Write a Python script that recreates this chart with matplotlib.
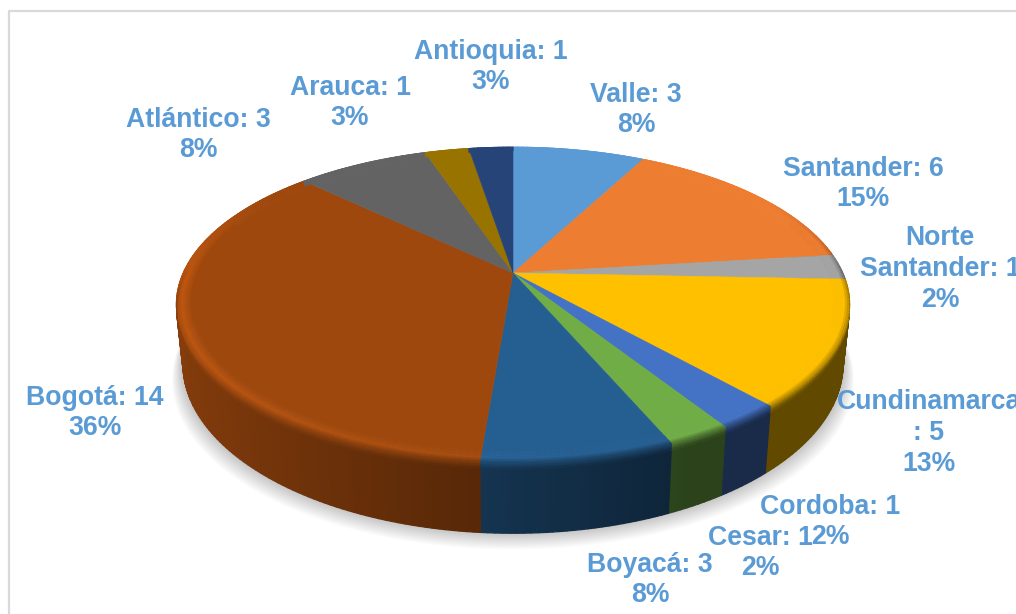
import numpy as np
import matplotlib
matplotlib.use('Agg')
import matplotlib.pyplot as plt
from matplotlib.collections import PolyCollection
from matplotlib.colors import to_rgb

plt.rcParams['font.family'] = ['Liberation Sans', 'DejaVu Sans']

names = ['Valle', 'Santander', 'Norte\nSantander', 'Cundinamarca\n', 'Cordoba', 'Cesar',
         'Boyacá', 'Bogotá', 'Atlántico', 'Arauca', 'Antioquia']
values = [3, 6, 1, 5, 1, 1, 3, 14, 3, 1, 1]
percents = [8, 15, 2, 13, 2, 2, 8, 36, 8, 3, 3]
colors = ['#5B9BD5', '#ED7D31', '#A5A5A5', '#FFC000', '#4472C4', '#70AD47',
          '#255E91', '#9E480E', '#636363', '#997300', '#264478']
label_x = [636, 863, 940, 929, 830, 760, 650, 95, 198, 350, 491]
label_y = [110, 184, 269, 433, 522, 553, 580, 413, 135, 103, 67]

# pie geometry in pixels, with a little perspective
cx, cy = 513, 273
R, b, k = 330, 151.2, 0.2
h = 57
rim = 0.955


def project(theta, r=1.0, t=0.0):
    X = r * np.sin(theta)
    Y = r * np.cos(theta)
    d = 1 + k * Y
    return cx + R * X / d * (1 - 0.02 * t), cy - b * Y / d + h * t / d


def wall_shade(theta):
    X = np.sin(theta)
    return 0.38 + 0.47 * np.clip((0.45 - X) / 1.45, 0, 1)


def rim_shade(theta, s):
    X, Y = np.sin(theta), np.cos(theta)
    peak = 1 + 0.2 * np.clip((0.2 - X) / 1.2, 0, 1)
    # left side stays bright up to the silhouette, right side goes dark earlier
    limit = 0.1 if X < 0 else 0.6
    width = 0.3 if X < 0 else 0.6
    w = peak + (wall_shade(theta) - peak) * np.clip((limit - Y) / width, 0, 1)
    f = 1 + (peak - 1) * s / 0.45 if s < 0.45 else peak + (w - peak) * (s - 0.45) / 0.55
    return 1 + (f - 1) * np.clip((0.6 - Y) / 0.6, 0, 1)


def profile(s):
    return min(1.0, rim + (1 - rim) * s / 0.7), max(0.0, (s - 0.7) / 0.3 * 0.1)


fig = plt.figure(figsize=(10.16, 6.14), dpi=100)
ax = fig.add_axes([0, 0, 1, 1])
ax.set_xlim(0, 1016)
ax.set_ylim(614, 0)
ax.axis('off')

# chart border, only top and left are in the crop
ax.plot([9, 9, 1016], [614, 11, 11], color='#D9D9D9', lw=1.6, zorder=1)

# soft shadow under the pie
ring = np.linspace(0, 2 * np.pi, 361)
for i in range(16):
    sx, sy = project(ring, 1.0, 1.0)
    sx = cx + (sx - cx) * (1 + i * 0.0022)
    sy = sy + i * 1.15 - 1
    ax.fill(sx, sy, color='black', alpha=0.014, lw=0, zorder=2)

edges = np.cumsum([0] + values) / sum(values) * 2 * np.pi
steps = np.linspace(0, 1, 11)

for start, end, color in zip(edges[:-1], edges[1:], colors):
    base = np.array(to_rgb(color))
    n = max(2, int(np.degrees(end - start)))
    thetas = np.linspace(start, end, n + 1)
    wall_polys, wall_faces, rim_polys, rim_faces = [], [], [], []
    for a1, a2 in zip(thetas[:-1], thetas[1:]):
        mid = (a1 + a2) / 2
        # side wall, the back part is hidden anyway
        if np.cos(mid) < 0.4:
            wall_polys.append([project(a1, 1.0, 0.09), project(a2, 1.0, 0.09),
                               project(a2, 1.0, 1.0), project(a1, 1.0, 1.0)])
            wall_faces.append(np.clip(base * wall_shade(mid), 0, 1))
        # rounded edge between top and wall
        for s1, s2 in zip(steps[:-1], steps[1:]):
            r1, t1 = profile(s1)
            r2, t2 = profile(s2)
            rim_polys.append([project(a1, r1, t1), project(a2, r1, t1),
                              project(a2, r2, t2), project(a1, r2, t2)])
            rim_faces.append(np.clip(base * rim_shade(mid, (s1 + s2) / 2), 0, 1))
    if wall_polys:
        ax.add_collection(PolyCollection(wall_polys, facecolors=wall_faces, edgecolors=wall_faces,
                                         linewidths=0.9, zorder=3))
    ax.add_collection(PolyCollection(rim_polys, facecolors=rim_faces, edgecolors=rim_faces,
                                     linewidths=0.5, zorder=4))
    # flat top
    tx, ty = project(thetas, rim)
    ax.fill(np.r_[cx, tx], np.r_[cy, ty], color=color, lw=0.4, zorder=5)

for name, v, p, x, y in zip(names, values, percents, label_x, label_y):
    ax.text(x, y, f'{name}: {v}\n{p}%', color='#5B9BD5', fontsize=19.2, fontweight='bold',
            ha='center', va='center', linespacing=1.24, zorder=6)

fig.savefig('out.png', dpi=100)
